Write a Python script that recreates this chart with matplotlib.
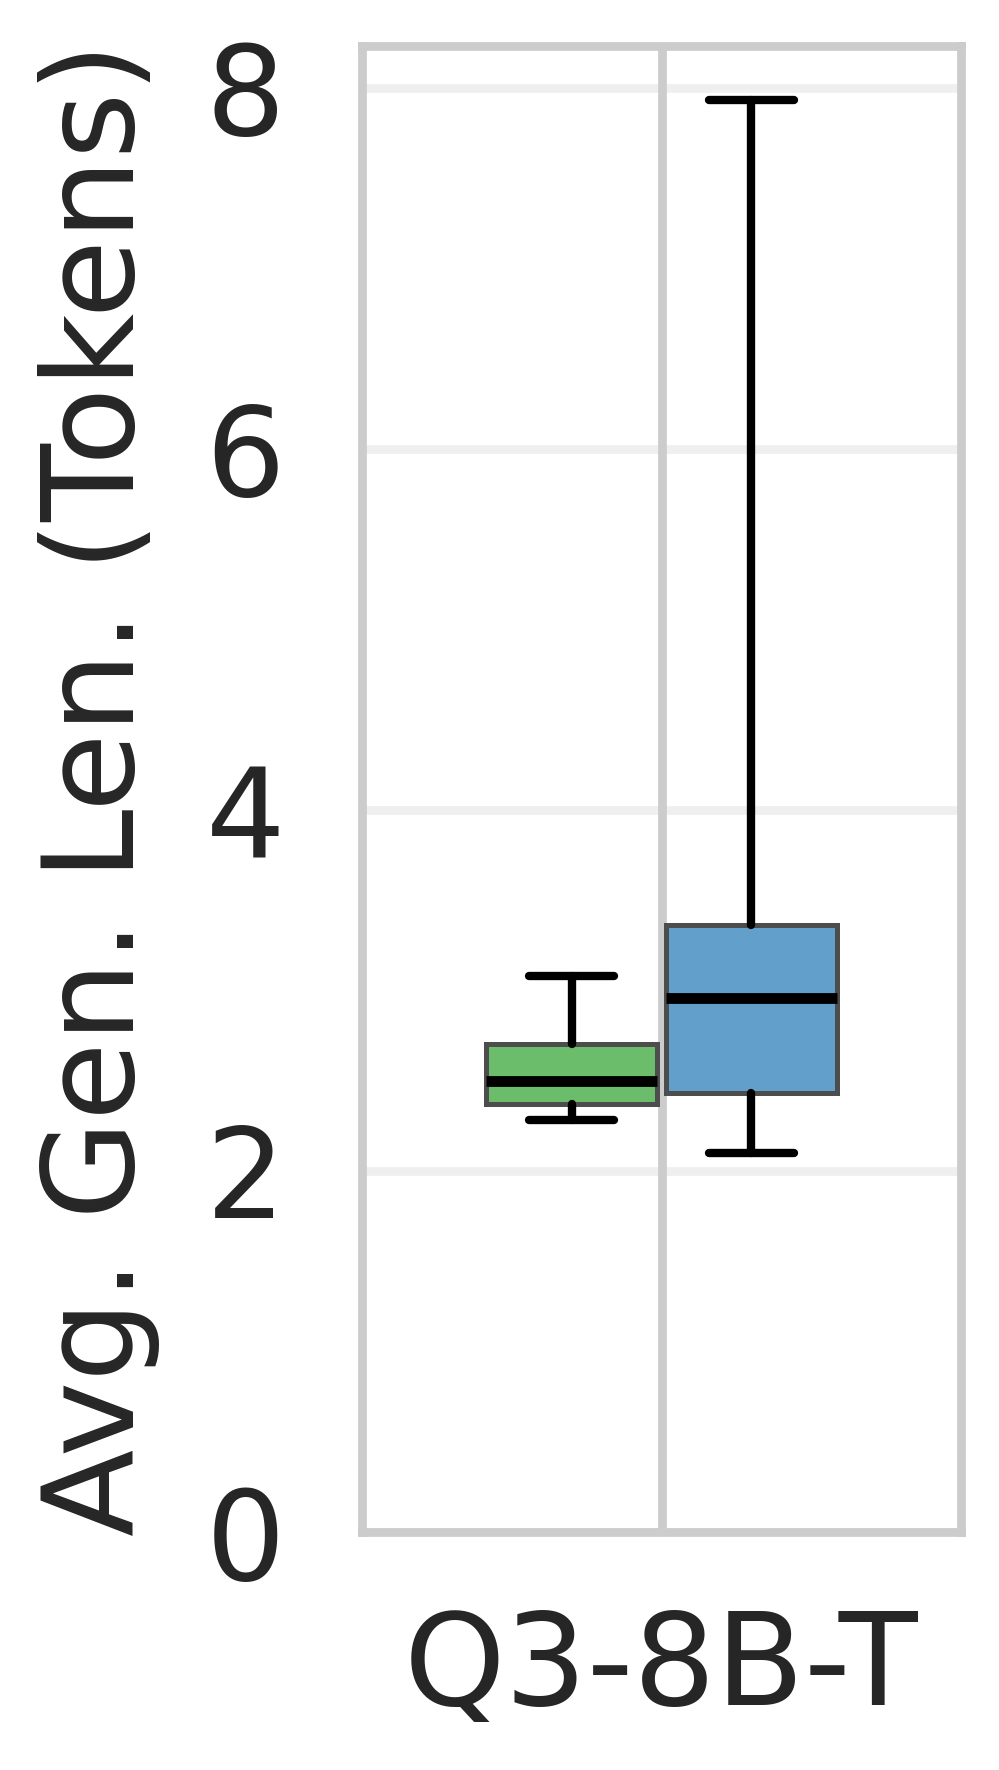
import matplotlib.pyplot as plt

# box stats
groups = ["green", "blue"]
colors = ["tab:green", "tab:blue"]
positions = [-0.15, 0.15]
q1 = [2.37, 2.43]
med = [2.50, 2.96]
q3 = [2.70, 3.36]
whislo = [2.28, 2.10]
whishi = [3.08, 7.93]

category = "Q3-8B-T"
yticks = [0, 2, 4, 6, 8]

stats = []
for i in range(len(groups)):
    stats.append({"label": groups[i], "q1": q1[i], "med": med[i], "q3": q3[i],
                  "whislo": whislo[i], "whishi": whishi[i], "fliers": []})

fig = plt.figure(figsize=(3.33, 5.9), dpi=300)
ax = fig.add_axes([362 / 999, 1 - 1532 / 1770, 599 / 999, 1486 / 1770])

bp = ax.bxp(stats, positions=positions, widths=0.285, patch_artist=True,
            showfliers=False, manage_ticks=False,
            boxprops=dict(edgecolor="#4d4d4d", linewidth=1.2),
            medianprops=dict(color="black", linewidth=2.6, solid_capstyle="butt"),
            whiskerprops=dict(color="black", linewidth=2.0, solid_capstyle="round"),
            capprops=dict(color="black", linewidth=2.0, solid_capstyle="round"))
for patch, c in zip(bp["boxes"], colors):
    patch.set_facecolor(plt.matplotlib.colors.to_rgba(c, 0.7))
    patch.set_zorder(3)
for key in ["medians", "whiskers", "caps"]:
    for ln in bp[key]:
        ln.set_zorder(4)

ax.set_xlim(-0.5, 0.5)
ax.set_ylim(0, 8.23)
ax.set_xticks([0])
ax.set_xticklabels([category])
ax.set_yticks(yticks)
ax.set_yticklabels([str(t) for t in yticks])
ax.tick_params(axis="both", length=0, labelcolor="#262626")
ax.tick_params(axis="y", pad=18.5, labelsize=30)
ax.tick_params(axis="x", pad=18, labelsize=31)

# grid: vertical line at category, faint horizontal lines
ax.set_axisbelow(True)
ax.yaxis.grid(True, color="#cccccc", alpha=0.3, linewidth=2.1)
ax.xaxis.grid(True, color="#cccccc", linewidth=2.1)
for s in ax.spines.values():
    s.set_color("#cccccc")
    s.set_linewidth(2.1)

ax.set_ylabel("Avg. Gen. Len. (Tokens)", fontsize=30.6, color="#262626", labelpad=11)

plt.savefig("out.png", dpi=300)
plt.close()
